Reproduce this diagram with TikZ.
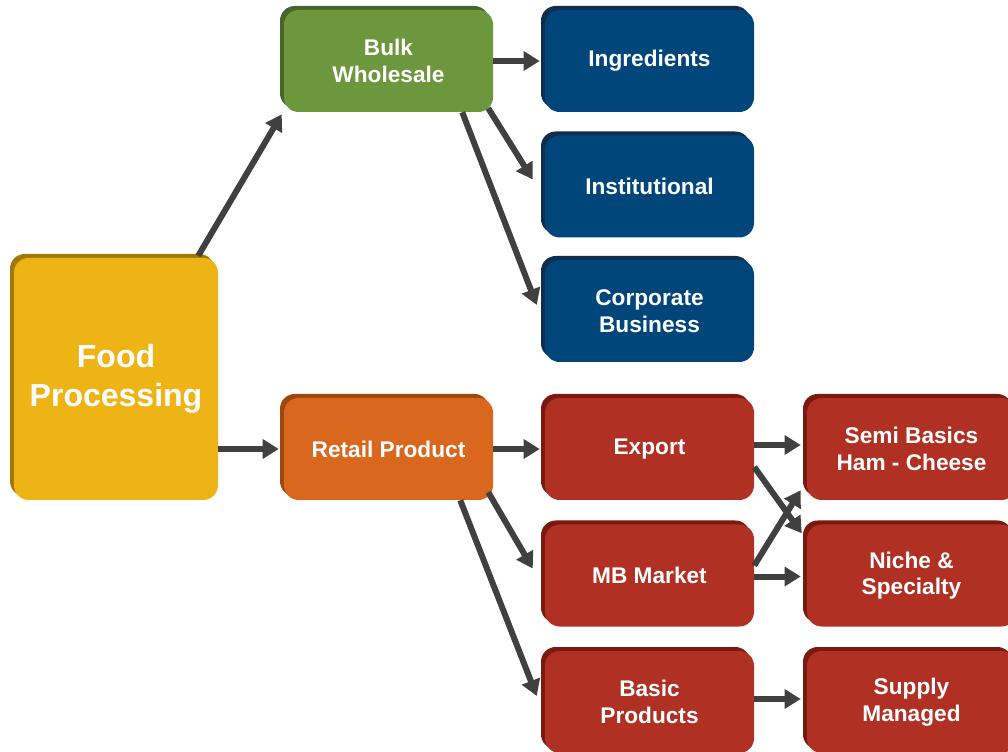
\documentclass[tikz,border=0pt]{standalone}
\usepackage{fontspec}
\setmainfont{Liberation Sans}
\usetikzlibrary{shadows,arrows.meta,calc}
\definecolor{cyel}{HTML}{EEB416}\definecolor{cyeld}{HTML}{9E7A05}
\definecolor{cgrn}{HTML}{6D973D}\definecolor{cgrnd}{HTML}{46662A}
\definecolor{cblu}{HTML}{01467A}\definecolor{cblud}{HTML}{0F2E4E}
\definecolor{corg}{HTML}{DA671E}\definecolor{corgd}{HTML}{9E4810}
\definecolor{cred}{HTML}{B03024}\definecolor{credd}{HTML}{7A190F}
\definecolor{carr}{HTML}{404040}
\tikzset{
  box/.style={rounded corners=11pt, minimum width=156.75pt, minimum height=76.5pt,
    inner sep=0pt, align=center, text=white,
    font=\fontsize{17}{20}\selectfont\bfseries},
  ybox/.style={box, fill=cyel, general shadow={shadow xshift=-3pt, shadow yshift=3pt, fill=cyeld}},
  gbox/.style={box, fill=cgrn, general shadow={shadow xshift=-3pt, shadow yshift=3pt, fill=cgrnd}},
  bbox/.style={box, fill=cblu, general shadow={shadow xshift=-3pt, shadow yshift=3pt, fill=cblud}},
  obox/.style={box, fill=corg, general shadow={shadow xshift=-3pt, shadow yshift=3pt, fill=corgd}},
  rbox/.style={box, fill=cred, general shadow={shadow xshift=-3pt, shadow yshift=3pt, fill=credd}},
  arr/.style={draw=carr, line width=4.5pt, -{Triangle[length=12pt,width=14pt]}}
}
\begin{document}
\begin{tikzpicture}[x=0.75pt,y=-0.75pt]
\useasboundingbox (0,0) rectangle (1008,752);
\clip (0,0) rectangle (1008,752);
\node[ybox, minimum width=153pt, minimum height=181.5pt, font=\fontsize{24}{29}\selectfont\bfseries] (food) at (116,379) {Food\\Processing};
\node[gbox] (bulk) at (388.5,61) {Bulk\\Wholesale};
\node[bbox] (ingr) at (649.5,61) {Ingredients};
\node[bbox] (inst) at (649.5,186.5) {Institutional};
\node[bbox] (corp) at (649.5,311) {Corporate\\Business};
\node[obox] (retail) at (388.5,449) {Retail Product};
\node[rbox] (export) at (649.5,449) {Export};
\node[rbox] (mb) at (649.5,575.5) {MB Market};
\node[rbox] (basic) at (649.5,702) {Basic\\Products};
\node[rbox] (semi) at (911.5,449) {Semi Basics\\Ham - Cheese};
\node[rbox] (niche) at (911.5,575.5) {Niche \&\\Specialty};
\node[rbox] (supply) at (911.5,702) {Supply\\Managed};

\draw[arr] ($(food.north east)+(-20,-2)$) -- ($(bulk.south west)+(-2,2)$);
\draw[arr] (food.east |- retail.west) -- ($(retail.west)+(-5,0)$);
\draw[arr] (bulk.east) -- ($(ingr.west)+(-5,0)$);
\draw[arr] ($(bulk.south east)+(-5,-4)$) -- ($(inst.west)+(-12,-7)$);
\draw[arr] ($(bulk.south east)+(-31,0)$) -- ($(corp.west)+(-8,-6)$);
\draw[arr] (retail.east) -- ($(export.west)+(-5,0)$);
\draw[arr] ($(retail.south east)+(-5,-8)$) -- ($(mb.west)+(-12,-7)$);
\draw[arr] ($(retail.south east)+(-33,0)$) -- ($(basic.west)+(-8,-6)$);
\draw[arr] ($(export.east)+(0,-4)$) -- ($(semi.west)+(-6,-4)$);
\draw[arr] ($(export.east)+(0,18)$) -- ($(niche.north west)+(-5,9)$);
\draw[arr] ($(mb.east)+(0,-10)$) -- ($(semi.south west)+(-6,-10)$);
\draw[arr] ($(mb.east)+(0,1)$) -- ($(niche.west)+(-6,1)$);
\draw[arr] ($(basic.east)+(0,-3)$) -- ($(supply.west)+(-6,-3)$);
\end{tikzpicture}
\end{document}
